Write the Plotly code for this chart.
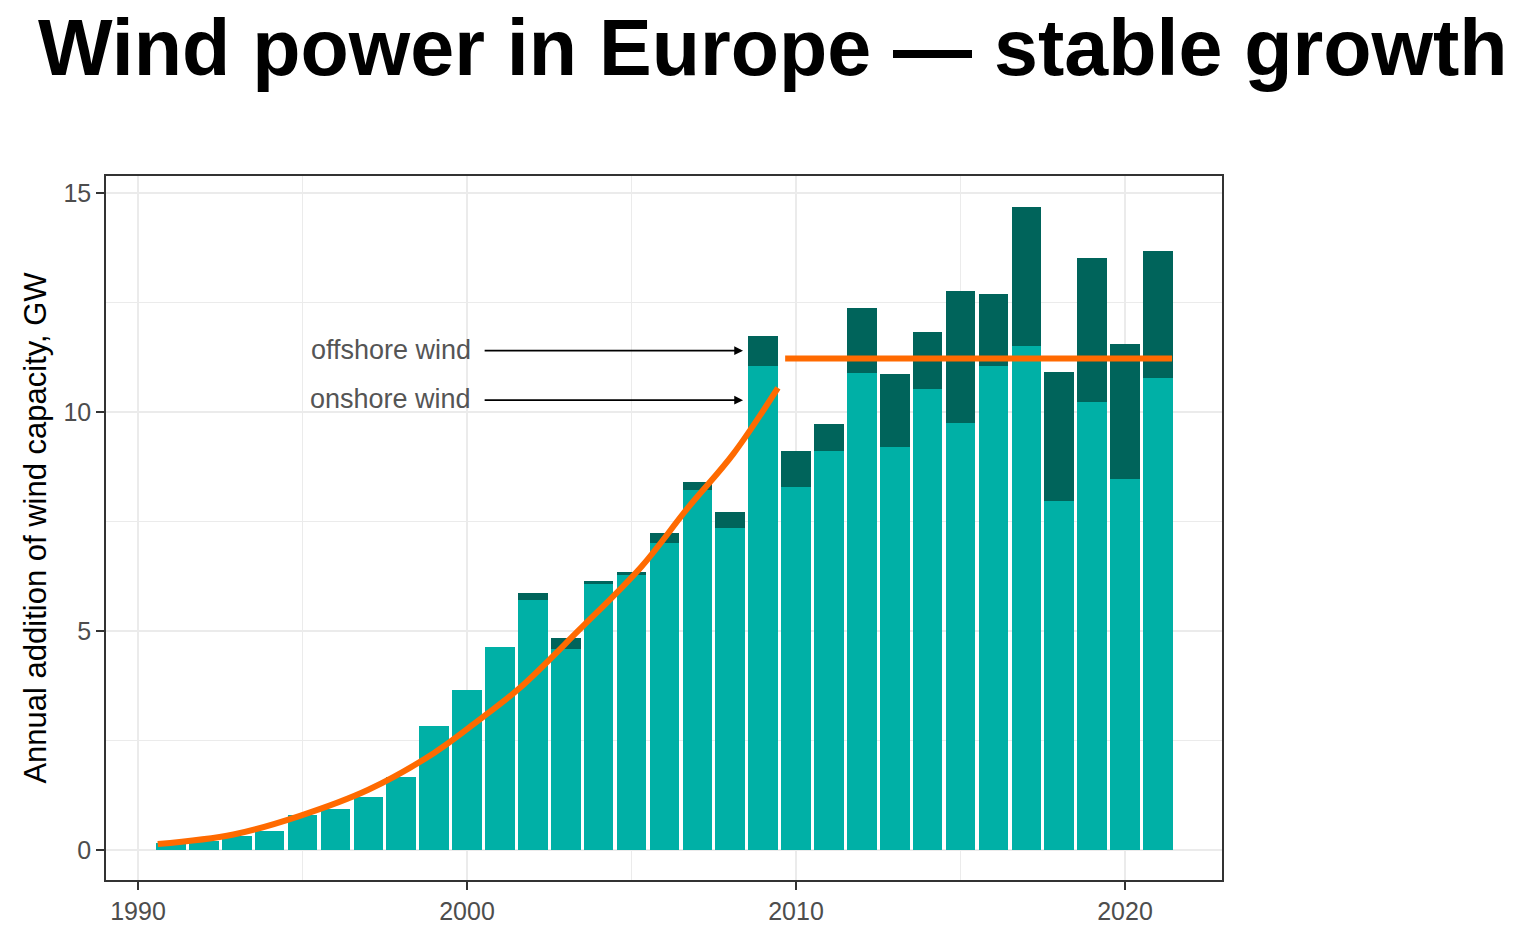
import plotly.graph_objects as go

# ---- data ----
years = list(range(1991, 2022))
onshore = [0.17, 0.22, 0.32, 0.45, 0.81, 0.93, 1.21, 1.68, 2.84, 3.65,
           4.64, 5.72, 4.59, 6.07, 6.27, 7.02, 8.21, 7.36, 11.05, 8.30,
           9.12, 10.88, 9.19, 10.53, 9.74, 11.05, 11.51, 7.96, 10.22, 8.47,
           10.78]
offshore = [0.0, 0.0, 0.0, 0.0, 0.0, 0.0, 0.0, 0.0, 0.0, 0.0,
            0.0, 0.16, 0.26, 0.08, 0.08, 0.22, 0.20, 0.35, 0.69, 0.82,
            0.60, 1.49, 1.67, 1.30, 3.03, 1.64, 3.17, 2.96, 3.29, 3.08,
            2.90]

# hand-drawn trend lines
trend_x = [1990.6, 1992.9, 1994.9, 1997.0, 1999.0, 2000.5, 2001.6, 2003.4,
           2005.3, 2006.7, 2008.1, 2009.45]
trend_y = [0.14, 0.36, 0.78, 1.38, 2.22, 3.05, 3.7, 5.02, 6.47, 7.8, 9.05, 10.55]
flat_x = [2009.67, 2021.43]
flat_y = [11.22, 11.22]

x_ticks = [1990, 2000, 2010, 2020]
y_ticks = [0, 5, 10, 15]

ON_COL = "#00B0A6"
OFF_COL = "#00645B"
ORANGE = "#FF6A00"
GRID = "#EBEBEB"
FONT = "Liberation Sans, Arial, Helvetica, sans-serif"

fig = go.Figure()
fig.add_trace(go.Bar(x=years, y=onshore, width=0.9, marker_color=ON_COL,
                     marker_line_width=0, name="onshore wind"))
fig.add_trace(go.Bar(x=years, y=offshore, width=0.9, marker_color=OFF_COL,
                     marker_line_width=0, name="offshore wind"))
fig.add_trace(go.Scatter(x=trend_x, y=trend_y, mode="lines",
                         line=dict(color=ORANGE, width=6, shape="spline", smoothing=1.0)))
fig.add_trace(go.Scatter(x=flat_x, y=flat_y, mode="lines",
                         line=dict(color=ORANGE, width=6)))

# white strip hiding gridlines at the right edge (as in the reference)
fig.add_shape(type="rect", xref="x", yref="paper", x0=2021.46, x1=2022.68,
              y0=0, y1=1, fillcolor="white", line_width=0, layer="between")

# labels with arrows
label_x = 2000.18
tail_x = 2000.49
head_x = 2008.39
for txt, yv in [("offshore wind", 11.40), ("onshore wind", 10.27)]:
    fig.add_annotation(x=label_x, y=yv + 0.02, text=txt, showarrow=False,
                       xanchor="right", yanchor="middle",
                       font=dict(family=FONT, size=27, color="#555555"))
    fig.add_annotation(x=head_x, y=yv, ax=tail_x, ay=yv, axref="x", ayref="y",
                       text="", showarrow=True, arrowhead=2, arrowsize=1.1,
                       arrowwidth=1.6, arrowcolor="black", standoff=0)

fig.update_layout(
    width=1536, height=937,
    barmode="stack", bargap=0.1,
    showlegend=False,
    paper_bgcolor="white", plot_bgcolor="white",
    margin=dict(l=106, r=314, t=176, b=51),
    title=dict(text="<b>Wind power in Europe — stable growth</b>",
               x=38 / 1536, xanchor="left", xref="container",
               y=1 - 47 / 937, yanchor="middle", yref="container",
               font=dict(family=FONT, size=79, color="black")),
)
fig.update_xaxes(
    range=[1989.027, 2022.948], tickvals=x_ticks, ticktext=[str(v) for v in x_ticks],
    showgrid=True, gridcolor=GRID, gridwidth=2,
    minor=dict(dtick=5, tick0=1990, showgrid=True, gridcolor=GRID, gridwidth=1),
    showline=True, linecolor="#333333", linewidth=1.5, mirror=True,
    ticks="outside", ticklen=8, tickwidth=2, tickcolor="#333333",
    tickfont=dict(family=FONT, size=25, color="#4D4D4D"),
    zeroline=False,
)
fig.update_yaxes(
    range=[-0.679, 15.385], tickvals=y_ticks, ticktext=[str(v) for v in y_ticks],
    showgrid=True, gridcolor=GRID, gridwidth=2,
    minor=dict(dtick=2.5, tick0=0, showgrid=True, gridcolor=GRID, gridwidth=1),
    showline=True, linecolor="#333333", linewidth=1.5, mirror=True,
    ticks="outside", ticklen=8, tickwidth=2, tickcolor="#333333",
    tickfont=dict(family=FONT, size=25, color="#4D4D4D"),
    zeroline=False,
    title=dict(text="Annual addition of wind capacity, GW", standoff=8,
               font=dict(family=FONT, size=31, color="black")),
)

fig.write_html("out.html")
